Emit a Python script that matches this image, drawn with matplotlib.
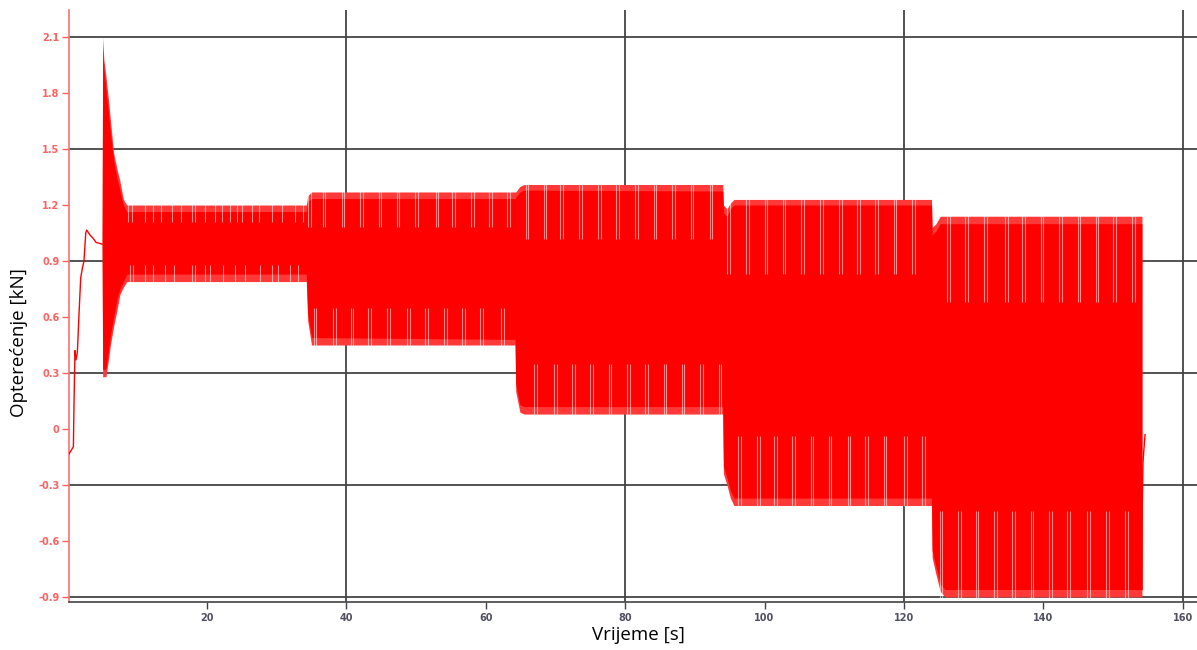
import matplotlib
matplotlib.use("Agg")
import matplotlib.pyplot as plt
import numpy as np

# ---------------- data ----------------
# start-up ramp (single line before the oscillation begins)
ramp_t = [0.1, 0.59, 0.83, 0.92, 1.06, 1.2, 1.4, 1.64, 1.88, 2.11, 2.35, 2.6, 2.74,
          3.2, 3.7, 4.07, 4.55, 4.95]
ramp_v = [-0.14, -0.11, -0.095, 0.14, 0.42, 0.37, 0.41, 0.62, 0.81, 0.86, 0.90, 1.05,
          1.066, 1.04, 1.02, 1.0, 0.995, 0.99]

# short tail after the oscillation stops
tail_t = [154.15, 154.2, 154.3, 154.45, 154.6]
tail_v = [-0.86, -0.40, -0.18, -0.10, -0.03]

# envelope of the oscillating load: solid band and spike tips
env_t = [4.95, 5.03, 5.2, 5.5, 5.9, 6.1, 6.6, 7.1, 7.5, 8.0, 8.5, 34.25,
         34.45, 35.0, 64.2,
         64.3, 64.9, 65.5, 94.0,
         94.1, 94.6, 95.1, 95.6, 123.95,
         124.05, 124.6, 125.2, 125.9, 154.15]
env_hi = [0.99, 2.05, 1.93, 1.82, 1.68, 1.60, 1.44, 1.34, 1.28, 1.20, 1.165, 1.165,
          1.22, 1.235, 1.235,
          1.24, 1.27, 1.28, 1.275,
          1.16, 1.14, 1.18, 1.20, 1.20,
          1.04, 1.06, 1.10, 1.10, 1.10]
env_lo = [0.99, 0.32, 0.32, 0.32, 0.43, 0.49, 0.60, 0.70, 0.75, 0.79, 0.83, 0.83,
          0.62, 0.49, 0.48,
          0.24, 0.13, 0.12, 0.12,
          -0.20, -0.26, -0.33, -0.37, -0.37,
          -0.65, -0.74, -0.83, -0.86, -0.86]
tip_hi = [0.99, 2.10, 1.98, 1.89, 1.75, 1.67, 1.48, 1.39, 1.33, 1.23, 1.20, 1.20,
          1.25, 1.27, 1.27,
          1.27, 1.30, 1.31, 1.31,
          1.20, 1.18, 1.21, 1.23, 1.23,
          1.08, 1.10, 1.14, 1.14, 1.14]
tip_lo = [0.99, 0.28, 0.28, 0.28, 0.38, 0.44, 0.55, 0.64, 0.72, 0.76, 0.79, 0.79,
          0.58, 0.45, 0.45,
          0.20, 0.09, 0.08, 0.08,
          -0.24, -0.30, -0.37, -0.41, -0.41,
          -0.69, -0.78, -0.87, -0.90, -0.90]

# light stripes along the upper and lower edges, per load block
stripe_hi_t = [
    [8.7, 9.2, 11.1, 12.2, 13.4, 15.0, 16.3, 17.8, 18.3, 19.7, 21.1, 22.1, 23.3, 24.3,
     25.0, 26.4, 27.4, 29.3, 30.7, 32.6, 33.8],
    [34.7, 36.8, 39.5, 42.2, 44.8, 47.4, 50.1, 53.0, 55.4, 58.1, 60.7, 63.3],
    [65.9, 68.5, 70.9, 73.6, 76.3, 78.9, 81.6, 84.3, 86.9, 89.6, 92.3],
    [94.85, 97.6, 100.2, 102.8, 105.4, 108.2, 110.9, 113.5, 116.1, 118.7, 121.4],
    [126.4, 129.0, 131.7, 134.7, 137.2, 139.8, 142.5, 145.1, 147.7, 150.2, 152.9],
]
stripe_lo_t = [
    [8.95, 9.4, 11.1, 12.3, 14.0, 15.2, 17.8, 18.3, 19.7, 20.4, 22.3, 24.0, 25.5, 27.6,
     29.3, 30.2, 31.9, 33.1],
    [35.5, 38.3, 40.8, 43.3, 46.0, 48.9, 51.5, 54.2, 56.8, 59.4, 62.4],
    [67.1, 70.0, 72.6, 75.2, 77.8, 80.5, 83.1, 85.7, 88.3, 91.0, 93.6],
    [96.4, 99.1, 101.6, 104.2, 106.8, 109.4, 112.1, 114.6, 117.3, 120.2, 122.8],
    [125.3, 128.0, 130.5, 133.1, 135.7, 138.4, 141.0, 143.6, 146.5, 149.2, 151.9],
]
stripe_hi_top = [1.20, 1.27, 1.31, 1.23, 1.14]
stripe_lo_bottom = [0.79, 0.45, 0.08, -0.41, -0.90]
stripe_hi_reach = [1.11, 1.08, 1.02, 0.83, 0.68]
stripe_lo_reach = [0.88, 0.65, 0.35, -0.04, -0.44]
stripe_paired = [False, True, True, True, True]

x_ticks = [20, 40, 60, 80, 100, 120, 140, 160]
y_ticks = [-0.9, -0.6, -0.3, 0.0, 0.3, 0.6, 0.9, 1.2, 1.5, 1.8, 2.1]
y_tick_labels = ["-0.9", "-0.6", "-0.3", "0", "0.3", "0.6", "0.9", "1.2", "1.5", "1.8", "2.1"]
x_grid = [40, 80, 120, 160]
y_grid = [-0.9, -0.3, 0.3, 0.9, 1.5, 2.1]

# ---------------- drawing ----------------
RED = "#ff0000"
FRINGE = "#ff3838"
fig = plt.figure(figsize=(11.97, 6.5), dpi=100)
ax = fig.add_axes([69 / 1197, 48 / 650, 1128 / 1197, 592 / 650])

for g in x_grid:
    ax.axvline(g, color="#444444", lw=1.3, zorder=0)
for g in y_grid:
    ax.axhline(g, color="#444444", lw=1.3, zorder=0)

ax.plot(ramp_t, ramp_v, color=RED, lw=1.0, zorder=3)
ax.plot(tail_t, tail_v, color=RED, lw=1.0, zorder=3)

# fuzzy spike fringe, then solid band
ax.fill_between(env_t, tip_lo, tip_hi, color=FRINGE, lw=0, zorder=2)
ax.fill_between(env_t, env_lo, env_hi, color=RED, lw=0, zorder=2.5)

half_gap = 0.19
for k in range(len(stripe_hi_t)):
    offs = (-half_gap, half_gap) if stripe_paired[k] else (0.0,)
    for t in stripe_hi_t[k]:
        for dt in offs:
            ax.vlines(t + dt, stripe_hi_reach[k], stripe_hi_top[k] + 0.005, color="white",
                      lw=0.8, alpha=0.55, zorder=4)
    for t in stripe_lo_t[k]:
        for dt in offs:
            ax.vlines(t + dt, stripe_lo_bottom[k] - 0.005, stripe_lo_reach[k], color="white",
                      lw=0.8, alpha=0.55, zorder=4)

ax.set_xlim(0.2, 162.05)
ax.set_ylim(-0.927, 2.245)

ax.set_xticks(x_ticks)
ax.set_xticklabels([str(v) for v in x_ticks])
ax.set_yticks(y_ticks)
ax.set_yticklabels(y_tick_labels)

ax.tick_params(axis="y", colors="#ff6060", labelsize=7, length=5, width=1, pad=2)
ax.tick_params(axis="x", colors="#404050", labelsize=7, length=5, width=1, pad=3)
for lab in ax.get_yticklabels():
    lab.set_fontweight("bold")
    lab.set_color("#ff6060")
for lab in ax.get_xticklabels():
    lab.set_fontweight("bold")
    lab.set_color("#505060")

for side in ("top", "right"):
    ax.spines[side].set_visible(False)
ax.spines["left"].set_color("#ff7070")
ax.spines["left"].set_linewidth(1.2)
ax.spines["bottom"].set_color("#505050")
ax.spines["bottom"].set_linewidth(1.3)

ax.set_ylabel("Opterećenje [kN]", fontsize=13.5, family="Open Sans", color="black")
ax.yaxis.set_label_coords(-0.036, 0.4375)
ax.set_xlabel("Vrijeme [s]", fontsize=13.5, family="Open Sans", color="black")
ax.xaxis.set_label_coords(0.505, -0.04)

fig.savefig("out.png", dpi=100)
